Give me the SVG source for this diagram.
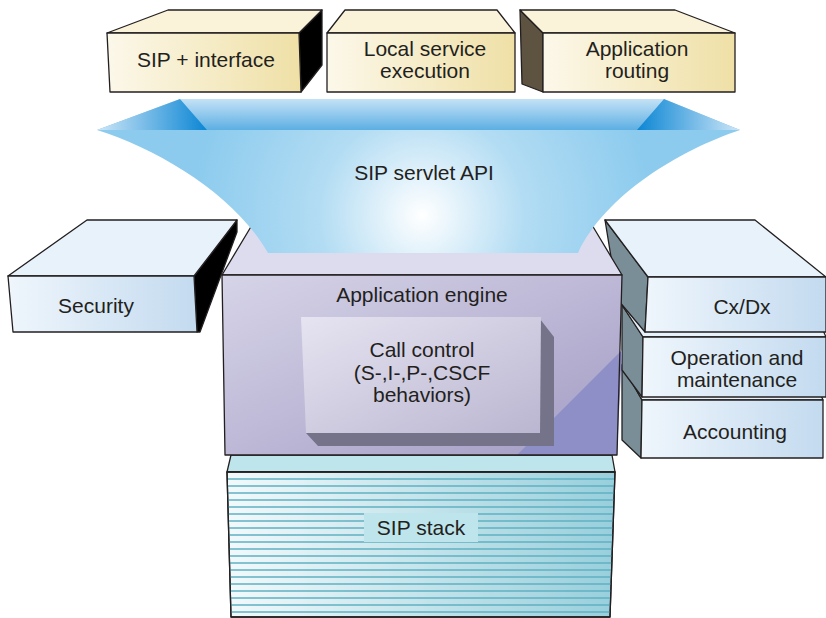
<svg xmlns="http://www.w3.org/2000/svg" width="826" height="618" viewBox="0 0 826 618">
<defs>
<style>
.o{stroke:#231f20;stroke-width:1.3;stroke-linejoin:round}
.t{font-family:"Liberation Sans",Arial,Helvetica,sans-serif;font-size:21px;fill:#231f20;text-anchor:middle}
.st{stroke:#5fb1c2;stroke-width:1.4}
</style>
<linearGradient id="cream" x1="0" y1="0" x2="1" y2="0"><stop offset="0" stop-color="#fcf8ea"/><stop offset="1" stop-color="#efe0a6"/></linearGradient>
<linearGradient id="ice" x1="0" y1="0" x2="1" y2="0"><stop offset="0" stop-color="#eff6fc"/><stop offset="1" stop-color="#c3daef"/></linearGradient>
<linearGradient id="eng" x1="0" y1="0" x2="1" y2="1"><stop offset="0" stop-color="#d6d4e8"/><stop offset="1" stop-color="#a39cc4"/></linearGradient>
<linearGradient id="cc" x1="0" y1="0" x2="1" y2="1"><stop offset="0" stop-color="#e6e4f1"/><stop offset="1" stop-color="#bab6d1"/></linearGradient>
<linearGradient id="stack" x1="0" y1="0" x2="1" y2="0"><stop offset="0" stop-color="#f2f9fb"/><stop offset="1" stop-color="#98cfdc"/></linearGradient>
<linearGradient id="ftop" x1="0" y1="0" x2="0" y2="1"><stop offset="0" stop-color="#c4e2f6"/><stop offset="1" stop-color="#5cafe3"/></linearGradient>
<linearGradient id="fl" x1="0" y1="0" x2="1" y2="0"><stop offset="0" stop-color="#cde6f7"/><stop offset="1" stop-color="#0c86d4"/></linearGradient>
<linearGradient id="fr" x1="0" y1="0" x2="1" y2="0"><stop offset="0" stop-color="#0c86d4"/><stop offset="1" stop-color="#cde6f7"/></linearGradient>
<radialGradient id="ffront" cx="422" cy="215" r="230" gradientUnits="userSpaceOnUse"><stop offset="0" stop-color="#ffffff"/><stop offset="0.45" stop-color="#b2dcf3"/><stop offset="1" stop-color="#8ccbee"/></radialGradient>
</defs>

<g id="sip-interface">
<polygon points="299,33 322,10 322,65 301,92" fill="#000" class="o"/>
<polygon points="107,33 168,10 322,10 299,33" fill="#faf3da" class="o"/>
<polygon points="107,33 299,33 301,92 110,92" fill="url(#cream)" class="o"/>
<text class="t" x="206" y="67">SIP + interface</text>
</g>

<g id="local-service">
<polygon points="327,33 345,10 497,10 515,33" fill="#faf3da" class="o"/>
<polygon points="327,33 515,33 515,92 327,92" fill="url(#cream)" class="o"/>
<text class="t" x="425" y="56">Local service</text>
<text class="t" x="425" y="78">execution</text>
</g>

<g id="app-routing">
<polygon points="520,10 543,33 543,92 522,84" fill="#5e5340" class="o"/>
<polygon points="520,10 675,10 735,33 543,33" fill="#faf3da" class="o"/>
<polygon points="543,33 735,33 735,92 543,92" fill="url(#cream)" class="o"/>
<text class="t" x="637" y="56">Application</text>
<text class="t" x="637" y="78">routing</text>
</g>

<g id="security">
<polygon points="194,276 237,220 237,232 200,332 197,332" fill="#000" class="o"/>
<polygon points="8,276 87,220 237,220 194,276" fill="#e7f2fa" class="o"/>
<polygon points="8,276 194,276 197,332 13,332" fill="url(#ice)" class="o"/>
<text class="t" x="96" y="313">Security</text>
</g>

<g id="accounting">
<polygon points="622,365 642,400 641,458 622,440" fill="#7a8e98" class="o"/>
<polygon points="622,365 808,365 823,400 642,400" fill="#e7f2fa" class="o"/>
<polygon points="642,400 823,400 823,458 641,458" fill="url(#ice)" class="o"/>
<text class="t" x="735" y="439">Accounting</text>
</g>

<g id="operation">
<polygon points="622,305 643,337 642,397 622,370" fill="#7a8e98" class="o"/>
<polygon points="622,305 812,305 826,337 643,337" fill="#e7f2fa" class="o"/>
<polygon points="643,337 826,337 826,397 642,397" fill="url(#ice)" class="o"/>
<text class="t" x="737" y="365">Operation and</text>
<text class="t" x="737" y="387">maintenance</text>
</g>

<g id="cxdx">
<polygon points="605,220 648,277 645,332 618,300" fill="#7a8e98" class="o"/>
<polygon points="605,220 755,220 826,277 648,277" fill="#e7f2fa" class="o"/>
<polygon points="648,277 826,277 826,332 645,332" fill="url(#ice)" class="o"/>
<text class="t" x="742" y="314">Cx/Dx</text>
</g>

<g id="sip-stack">
<polygon points="231,455 612,455 615,472 227,472" fill="#bfe5ec" class="o"/>
<polygon points="227,472 615,472 610,617 231,617" fill="url(#stack)" class="o"/>
<g class="st">
<line x1="228" y1="479" x2="614" y2="479"/><line x1="228" y1="486" x2="614" y2="486"/><line x1="228" y1="493" x2="614" y2="493"/><line x1="228" y1="500" x2="614" y2="500"/><line x1="228" y1="507" x2="613" y2="507"/><line x1="228" y1="514" x2="613" y2="514"/><line x1="229" y1="521" x2="613" y2="521"/><line x1="229" y1="528" x2="613" y2="528"/><line x1="229" y1="535" x2="613" y2="535"/><line x1="229" y1="542" x2="613" y2="542"/><line x1="229" y1="549" x2="612" y2="549"/><line x1="229" y1="556" x2="612" y2="556"/><line x1="230" y1="563" x2="612" y2="563"/><line x1="230" y1="570" x2="612" y2="570"/><line x1="230" y1="577" x2="611" y2="577"/><line x1="230" y1="584" x2="611" y2="584"/><line x1="230" y1="591" x2="611" y2="591"/><line x1="230" y1="598" x2="611" y2="598"/><line x1="231" y1="605" x2="610" y2="605"/><line x1="231" y1="612" x2="610" y2="612"/>
</g>
<polygon points="227,472 615,472 610,617 231,617" fill="none" class="o"/>
<rect x="364" y="513" width="114" height="29" fill="#bfe5ec"/>
<text class="t" x="421" y="535">SIP stack</text>
</g>

<g id="app-engine">
<polygon points="222,275 252,225 592,225 622,275" fill="#dcdcee" class="o"/>
<polygon points="222,275 622,275 617,455 225,455" fill="url(#eng)"/>
<polygon points="517,455 622,350 617,455" fill="#8d8fc6"/>
<polygon points="222,275 622,275 617,455 225,455" fill="none" class="o"/>
<text class="t" x="422" y="302">Application engine</text>
</g>

<g id="call-control">
<polygon points="540,319 554,337 554,446 318,446 306,433 540,433" fill="#75738a"/>
<polygon points="301,317 541,317 540,433 306,433" fill="url(#cc)"/>
<text class="t" x="422" y="357">Call control</text>
<text class="t" x="422" y="380">(S-,I-,P-,CSCF</text>
<text class="t" x="422" y="402">behaviors)</text>
</g>

<g id="servlet-api">
<polygon points="180,99 664,99 740,130 97,130" fill="url(#ftop)"/>
<polygon points="180,99 207,130 97,130" fill="url(#fl)"/>
<polygon points="664,99 740,130 637,130" fill="url(#fr)"/>
<path d="M97,130 L740,130 C680,150 605,195 578,253 L268,253 C235,195 160,150 97,130 Z" fill="url(#ffront)"/>
<text class="t" x="424" y="180">SIP servlet API</text>
</g>
<g id="connectors"/>
</svg>
